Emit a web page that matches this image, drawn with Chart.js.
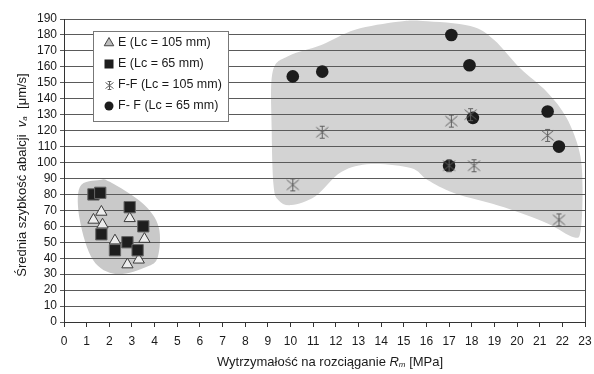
<!DOCTYPE html>
<html>
<head>
<meta charset="utf-8">
<script src="https://cdn.jsdelivr.net/npm/chart.js@4"></script>
<style>
  html, body { margin: 0; background: #fff; }
</style>
</head>
<body>
<canvas id="chart" width="594" height="374"></canvas>
<script>
// dane
const seriesLabels = ['E (Lc = 105 mm)', 'E (Lc = 65 mm)', 'F-F (Lc = 105 mm)', 'F- F (Lc = 65 mm)'];

const e105X = [1.3, 1.65, 1.7, 2.25, 2.9, 2.8, 3.3, 3.55];
const e105Y = [64, 69, 61, 51, 65, 36, 39, 52];

const e65X = [1.3, 1.6, 2.9, 1.65, 3.5, 2.25, 2.8, 3.25];
const e65Y = [80, 81, 72, 55, 60, 45, 50, 45];

const ff105X = [10.1, 11.4, 17.1, 17.95, 17.0, 18.1, 21.35, 21.85];
const ff105Y = [86, 119, 126, 130, 98, 98, 117, 64];

const ff65X = [10.1, 11.4, 17.1, 17.9, 18.05, 17.0, 21.35, 21.85];
const ff65Y = [154, 157, 180, 161, 128, 98, 132, 110];

// obszary (szare tło) w jednostkach danych
const blobSmallX = [0.7, 1.58, 2.02, 3.48, 4.18, 4.14, 3.63, 2.31, 1.29, 0.7];
const blobSmallY = [84.7, 89, 87.9, 74.3, 59.6, 40.8, 34.5, 30, 38.7, 63.8];

const blobBigX = [9.21, 9.91, 11.36, 12.85, 14.74, 15.83, 17.94, 18.99, 20.13, 21.32, 22.19, 22.76, 22.89, 22.81, 22.5, 21.32, 19.43, 17.24, 16.05, 15.31, 13.55, 12.24, 11.1, 10.04, 9.47, 9.25, 9.17];
const blobBigY = [156.7, 166.8, 173.7, 183.2, 188.2, 188.8, 185.6, 176.8, 159.2, 144.2, 127.9, 106.5, 84.6, 57.6, 53.2, 62, 72, 80.8, 89, 96.5, 99, 94, 78.9, 73.3, 76.4, 85.8, 120.4];

const xMin = 0, xMax = 23, xStep = 1;
const yMin = 0, yMax = 190, yStep = 10;

function toPoints(xs, ys) {
    return xs.map((x, i) => ({ x: x, y: ys[i] }));
}

function makeStar(size, color) {
    const c = document.createElement('canvas');
    c.width = size;
    c.height = size;
    const g = c.getContext('2d');
    const m = Math.floor(size / 2) + 0.5;
    const cap = Math.max(1.5, size / 6);
    g.strokeStyle = color;
    g.lineWidth = 1;
    g.beginPath();
    g.moveTo(m, 1); g.lineTo(m, size - 1);
    g.moveTo(1.5, 2.5); g.lineTo(size - 1.5, size - 2.5);
    g.moveTo(size - 1.5, 2.5); g.lineTo(1.5, size - 2.5);
    g.moveTo(m - cap, 1.5); g.lineTo(m + cap, 1.5);
    g.moveTo(m - cap, size - 1.5); g.lineTo(m + cap, size - 1.5);
    g.stroke();
    return c;
}

const starImg = makeStar(15, '#5f5f5f');
const starSmall = makeStar(11, '#5f5f5f');

const styles = [
    { pointStyle: 'triangle', radius: 6.5, bg: '#ececec', border: '#3a3a3a', bw: 1 },
    { pointStyle: 'rect', radius: 8, bg: '#1e1e1e', border: '#666', bw: 1 },
    { pointStyle: starImg, radius: 7, bg: '#5f5f5f', border: '#5f5f5f', bw: 0 },
    { pointStyle: 'circle', radius: 6.3, bg: '#1c1c1c', border: '#1c1c1c', bw: 0 }
];

function smoothClosed(ctx, pts) {
    const n = pts.length;
    ctx.moveTo(pts[0].x, pts[0].y);
    for (let i = 0; i < n; i++) {
        const p0 = pts[(i - 1 + n) % n], p1 = pts[i], p2 = pts[(i + 1) % n], p3 = pts[(i + 2) % n];
        ctx.bezierCurveTo(
            p1.x + (p2.x - p0.x) / 6, p1.y + (p2.y - p0.y) / 6,
            p2.x - (p3.x - p1.x) / 6, p2.y - (p3.y - p1.y) / 6,
            p2.x, p2.y
        );
    }
    ctx.closePath();
}

const blobPlugin = {
    id: 'blobs',
    beforeDraw(chart) {
        const ctx = chart.ctx;
        const sx = chart.scales.x, sy = chart.scales.y;
        const draw = (xs, ys, color) => {
            const pts = xs.map((x, i) => ({ x: sx.getPixelForValue(x), y: sy.getPixelForValue(ys[i]) }));
            ctx.save();
            ctx.fillStyle = color;
            ctx.beginPath();
            smoothClosed(ctx, pts);
            ctx.fill();
            ctx.restore();
        };
        draw(blobSmallX, blobSmallY, '#c9c9c9');
        draw(blobBigX, blobBigY, '#d3d3d3');
    }
};

// znacznik w legendzie (mniejszy niż na wykresie)
function drawMarker(ctx, i, x, y) {
    const st = styles[i];
    ctx.save();
    ctx.fillStyle = st.bg;
    ctx.strokeStyle = st.border;
    ctx.lineWidth = 1;
    if (i === 0) {
        const r = 5.5;
        ctx.beginPath();
        ctx.moveTo(x, y - r);
        ctx.lineTo(x + r * 0.866, y + r / 2);
        ctx.lineTo(x - r * 0.866, y + r / 2);
        ctx.closePath();
        ctx.fillStyle = '#bdbdbd';
        ctx.fill();
        ctx.strokeStyle = '#444';
        ctx.stroke();
    } else if (i === 1) {
        ctx.fillRect(x - 4.5, y - 4.5, 9, 9);
    } else if (i === 3) {
        ctx.beginPath();
        ctx.arc(x, y, 4.5, 0, Math.PI * 2);
        ctx.fill();
    } else {
        ctx.drawImage(starSmall, Math.round(x - 5.5), Math.round(y - 5.5));
    }
    ctx.restore();
}

const decorPlugin = {
    id: 'decor',
    afterDraw(chart) {
        const ctx = chart.ctx;
        const a = chart.chartArea;
        ctx.save();
        // prawa krawędź obszaru wykresu
        ctx.strokeStyle = '#444';
        ctx.lineWidth = 1;
        ctx.beginPath();
        ctx.moveTo(Math.round(a.right) + 0.5, a.top);
        ctx.lineTo(Math.round(a.right) + 0.5, a.bottom);
        ctx.stroke();

        // legenda
        const lx = 93, ly = 31, lw = 135, lh = 90;
        ctx.fillStyle = '#fff';
        ctx.fillRect(lx, ly, lw, lh);
        ctx.strokeStyle = '#777';
        ctx.strokeRect(lx + 0.5, ly + 0.5, lw, lh);
        ctx.font = '12.5px "Liberation Sans", Arial, sans-serif';
        ctx.textBaseline = 'middle';
        ctx.textAlign = 'left';
        const rowY = [43, 64, 85, 106];
        seriesLabels.forEach((lab, i) => {
            drawMarker(ctx, i, 109, rowY[i]);
            ctx.fillStyle = '#1a1a1a';
            ctx.fillText(lab, 118, rowY[i]);
        });

        const normal = '13px "Liberation Sans", Arial, sans-serif';
        const italic = 'italic 13px "Liberation Sans", Arial, sans-serif';
        const sub = 'italic 8px "Liberation Sans", Arial, sans-serif';
        const drawRun = (segs, cx, cy) => {
            let total = 0;
            segs.forEach(s => { ctx.font = s.f; s.w = ctx.measureText(s.t).width; total += s.w; });
            let x = cx - total / 2;
            segs.forEach(s => {
                ctx.font = s.f;
                ctx.fillText(s.t, x, cy + (s.dy || 0));
                x += s.w;
            });
        };
        ctx.fillStyle = '#1a1a1a';
        ctx.textBaseline = 'middle';
        // tytuł osi X
        drawRun([
            { t: 'Wytrzymałość na rozciąganie ', f: normal },
            { t: 'R', f: italic },
            { t: 'm', f: sub, dy: 3 },
            { t: ' [MPa]', f: normal }
        ], 330, 362);

        // tytuł osi Y
        ctx.translate(22, 175);
        ctx.rotate(-Math.PI / 2);
        drawRun([
            { t: 'Średnia szybkość abalcji  ', f: normal },
            { t: 'v', f: italic },
            { t: 'a', f: sub, dy: 3 },
            { t: '  [μm/s]', f: normal }
        ], 0, 0);
        ctx.restore();
    }
};

const tickFont = { family: '"Liberation Sans", Arial, sans-serif', size: 12 };

const ctx = document.getElementById('chart').getContext('2d');
new Chart(ctx, {
    type: 'scatter',
    data: {
        datasets: [
            { label: seriesLabels[0], data: toPoints(e105X, e105Y), order: 3 },
            { label: seriesLabels[1], data: toPoints(e65X, e65Y), order: 2 },
            { label: seriesLabels[2], data: toPoints(ff105X, ff105Y), order: 0 },
            { label: seriesLabels[3], data: toPoints(ff65X, ff65Y), order: 1 }
        ].map((d, i) => Object.assign(d, {
            pointStyle: styles[i].pointStyle,
            pointRadius: styles[i].radius,
            pointHoverRadius: styles[i].radius,
            backgroundColor: styles[i].bg,
            borderColor: styles[i].border,
            borderWidth: styles[i].bw
        }))
    },
    options: {
        responsive: false,
        animation: false,
        devicePixelRatio: 1,
        layout: { padding: { top: 19, right: 3, left: 0, bottom: 0 } },
        plugins: {
            legend: { display: false },
            tooltip: { enabled: false }
        },
        scales: {
            x: {
                type: 'linear',
                min: xMin,
                max: xMax,
                ticks: { stepSize: xStep, autoSkip: false, color: '#1a1a1a', font: tickFont, padding: 7, maxRotation: 0 },
                grid: { drawOnChartArea: false, drawTicks: true, tickLength: 5, color: '#333' },
                border: { color: '#333' },
                afterFit(s) { s.height = 52; s.paddingLeft = 0; s.paddingRight = 0; }
            },
            y: {
                min: yMin,
                max: yMax,
                ticks: { stepSize: yStep, autoSkip: false, color: '#1a1a1a', font: tickFont, padding: 3 },
                grid: { color: '#5a5a5a', tickLength: 4 },
                border: { color: '#333' },
                afterFit(s) { s.width = 64; s.paddingTop = 0; s.paddingBottom = 0; }
            }
        }
    },
    plugins: [blobPlugin, decorPlugin]
});
</script>
</body>
</html>
